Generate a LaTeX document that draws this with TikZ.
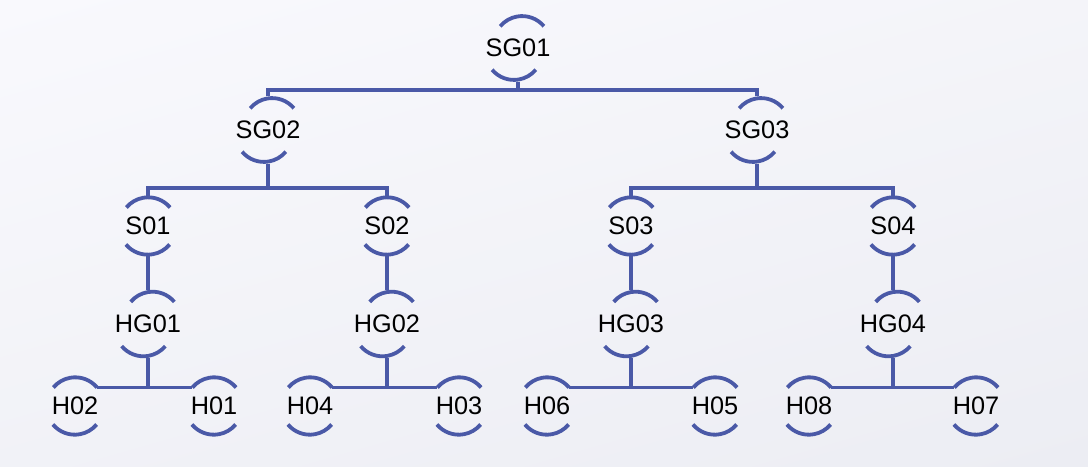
\documentclass[tikz,border=0pt]{standalone}
\usepackage{fontspec}
\setmainfont{Liberation Sans}
\usepackage{xcolor}
\usetikzlibrary{positioning, shadings}
\definecolor{treeblue}{RGB}{74,89,167}
\definecolor{bgtop}{RGB}{249,249,253}
\definecolor{bgbot}{RGB}{236,237,243}

\begin{document}
\begin{tikzpicture}[x=0.025cm, y=-0.025cm,
    n/.style={circle, minimum size=1.425cm, inner sep=0pt, font=\fontsize{18}{20}\selectfont},
    link/.style={draw=treeblue, line width=2.7pt},
    rim/.style={draw=treeblue, line width=2.7pt}]
    \shade[upper left=bgtop, upper right=bgtop!60!bgbot, lower left=bgtop!40!bgbot, lower right=bgbot] (0,0) rectangle (1088,467);
    \useasboundingbox (0,0) rectangle (1088,467);
    % nodes
    \node[n] (SG01) at (518,48) {SG01};
    \node[n] (SG02) at (268,130) {SG02};
    \node[n] (SG03) at (757,130) {SG03};
    \node[n] (S01) at (148,226) {S01};
    \node[n] (S02) at (387,226) {S02};
    \node[n] (S03) at (631,226) {S03};
    \node[n] (S04) at (893,226) {S04};
    \node[n] (HG01) at (148,324) {HG01};
    \node[n] (HG02) at (387,324) {HG02};
    \node[n] (HG03) at (631,324) {HG03};
    \node[n] (HG04) at (893,324) {HG04};
    \node[n] (H02) at (75,406) {H02};
    \node[n] (H01) at (214,406) {H01};
    \node[n] (H04) at (310,406) {H04};
    \node[n] (H03) at (459,406) {H03};
    \node[n] (H06) at (547,406) {H06};
    \node[n] (H05) at (715,406) {H05};
    \node[n] (H08) at (809,406) {H08};
    \node[n] (H07) at (976,406) {H07};
    % bus points
    \coordinate (b0) at (518,90);
    \coordinate (b1) at (268,188);
    \coordinate (b2) at (757,188);
    % connectors
    \draw[link] (SG01) -- (b0);
    \draw[link] (SG02) |- (b0) -| (SG03);
    \draw[link] (SG02) -- (b1); \draw[link] (S01) |- (b1) -| (S02);
    \draw[link] (SG03) -- (b2); \draw[link] (S03) |- (b2) -| (S04);
    \foreach \s/\h in {S01/HG01, S02/HG02, S03/HG03, S04/HG04}
        \draw[link] (\s) -- (\h);
    \foreach \h/\l/\r in {HG01/H02/H01, HG02/H04/H03, HG03/H06/H05, HG04/H08/H07} {
        \draw[link] (\l.40) -- (\r.140);
        \draw[link] (\h) -- (\h|-\l.40);
    }
    % rims
    \foreach \k in {SG01,SG02,SG03,S01,S02,S03,S04,HG01,HG02,HG03,HG04,H01,H02,H03,H04,H05,H06,H07,H08} {
        \draw[rim] (\k.40) arc[start angle=40, end angle=140, radius=0.7125cm];
        \draw[rim] (\k.220) arc[start angle=220, end angle=320, radius=0.7125cm];
    }
\end{tikzpicture}
\end{document}
